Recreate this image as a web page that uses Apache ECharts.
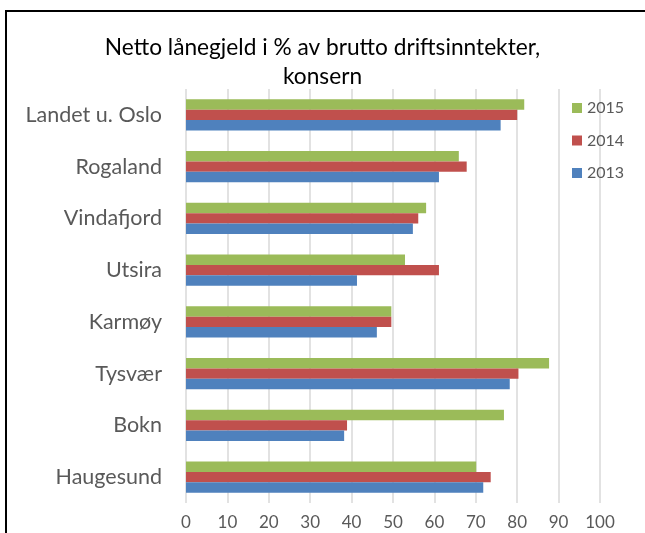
<!DOCTYPE html>
<html>
<head>
<meta charset="utf-8">
<script src="https://cdn.jsdelivr.net/npm/echarts@6/dist/echarts.min.js"></script>
<style>
  html, body { margin: 0; padding: 0; background: #fff; }
  #chart-container { width: 645px; height: 533px; }
</style>
</head>
<body>
<div id="chart-container"></div>
<script>
var dom = document.getElementById("chart-container");
var myChart = echarts.init(dom, null, { renderer: "canvas" });

var categories = ["Landet u. Oslo", "Rogaland", "Vindafjord", "Utsira", "Karmøy", "Tysvær", "Bokn", "Haugesund"];
var values2015 = [81.7, 65.9, 58.0, 52.9, 49.6, 87.7, 76.8, 70.1];
var values2014 = [80.0, 67.8, 56.1, 61.1, 49.6, 80.3, 38.9, 73.6];
var values2013 = [76.0, 61.1, 54.8, 41.3, 46.1, 78.2, 38.2, 71.8];
var xTicks = [0, 100, 10]; // min, max, interval

var fontFamily = "Lato, 'Open Sans', sans-serif";

var option = {
  animation: false,
  textStyle: { fontFamily: fontFamily },
  title: {
    text: "Netto lånegjeld i % av brutto driftsinntekter,\nkonsern",
    left: "center",
    top: 33,
    padding: [0, 0, 0, 15],
    textStyle: {
      fontFamily: fontFamily,
      fontSize: 22.7,
      fontWeight: "normal",
      color: "#000",
      lineHeight: 29,
    },
  },
  legend: {
    orient: "vertical",
    left: 567,
    top: 95,
    itemWidth: 10,
    itemHeight: 10,
    itemGap: 16.5,
    icon: "rect",
    data: ["2015", "2014", "2013"],
    textStyle: { fontFamily: fontFamily, fontSize: 16, color: "#595959" },
  },
  grid: {
    left: 186,
    right: 45,
    top: 89,
    bottom: 30,
    containLabel: false,
  },
  xAxis: {
    type: "value",
    min: xTicks[0],
    max: xTicks[1],
    interval: xTicks[2],
    axisLine: { show: false },
    axisTick: { show: false },
    axisLabel: { fontSize: 17, color: "#595959", margin: 11 },
    splitLine: { lineStyle: { color: "#d9d9d9", width: 1.5 } },
  },
  yAxis: {
    type: "category",
    inverse: true,
    data: categories,
    axisLine: { show: false },
    axisTick: { show: false },
    axisLabel: { fontSize: 21.5, color: "#595959", margin: 24 },
  },
  series: [
    {
      name: "2015",
      type: "bar",
      data: values2015,
      barGap: "0%",
      barCategoryGap: "40%",
      itemStyle: { color: "#9BBB59" },
    },
    {
      name: "2014",
      type: "bar",
      data: values2014,
      barGap: "0%",
      barCategoryGap: "40%",
      itemStyle: { color: "#C0504D" },
    },
    {
      name: "2013",
      type: "bar",
      data: values2013,
      barGap: "0%",
      barCategoryGap: "40%",
      itemStyle: { color: "#4F81BD" },
    },
  ],
  graphic: [
    {
      type: "rect",
      shape: { x: 6, y: 11, width: 700, height: 600 },
      style: { fill: null, stroke: "#000", lineWidth: 2 },
      silent: true,
    },
  ],
};

myChart.setOption(option);
window.addEventListener("resize", myChart.resize);
</script>
</body>
</html>
